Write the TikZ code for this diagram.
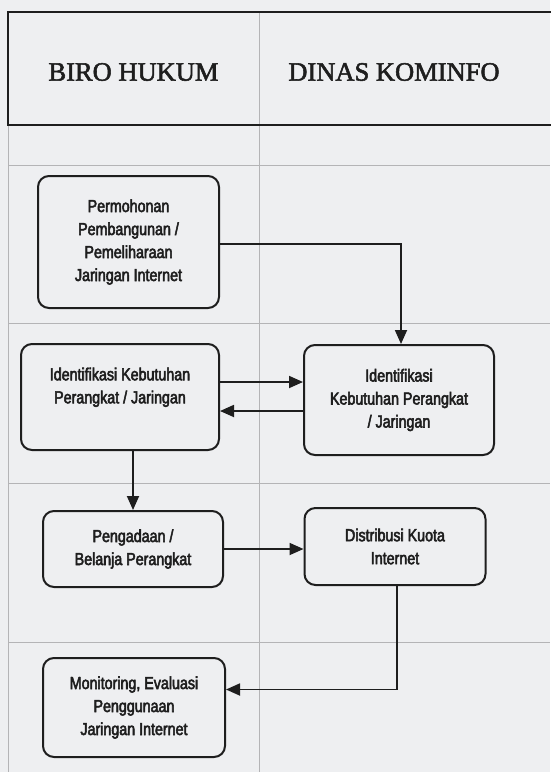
\documentclass[tikz,border=0pt]{standalone}
\usepackage{fontspec}
\setmainfont[FakeBold=2]{Liberation Serif}
\newfontfamily\boxfont[FakeStretch=0.82,FakeBold=3]{Liberation Sans}
\usetikzlibrary{arrows.meta,calc}
\definecolor{paper}{RGB}{238,239,241}
\definecolor{gridline}{RGB}{180,180,182}
\definecolor{ink}{RGB}{30,30,30}
\begin{document}
\begin{tikzpicture}[x=1pt,y=-1pt,
  lane/.style={draw=gridline,line width=0.6pt},
  header/.style={draw=ink,line width=1.4pt},
  title/.style={font=\fontsize{26.5}{30}\selectfont,text=ink,inner sep=0pt},
  flowbox/.style={draw=ink,line width=2pt,rounded corners=11pt,
    font=\boxfont\fontsize{17.4}{23}\selectfont,text=ink,align=center,
    inner sep=0pt},
  flow/.style={draw=ink,line width=1.8pt,
    -{Triangle[length=14pt,width=12pt]}}]
  % page and swimlane grid
  \fill[paper] (0,0) rectangle (550,772);
  \useasboundingbox (0,0) rectangle (550,772);
  \draw[lane] (8,12) -- (8,772);
  \draw[lane] (259,12) -- (259,772);
  \foreach \yy in {165,323,483,642}
    \draw[lane] (8,\yy) -- (550,\yy);
  % header band
  \draw[header] (552,12) -- (8,12) -- (8,125) -- (552,125);
  \node[title] (biro) at (133.5,72) {BIRO HUKUM};
  \node[title] (dinas) at (394,72) {DINAS KOMINFO};
  % process steps
  \node[flowbox,minimum width=181pt,minimum height=132pt] (A) at (128.5,242)
    {Permohonan\\Pembangunan /\\Pemeliharaan\\Jaringan Internet};
  \node[flowbox,minimum width=198pt,minimum height=106pt] (B) at (120,397)
    {Identifikasi Kebutuhan\\Perangkat / Jaringan\\\mbox{}};
  \node[flowbox,minimum width=190pt,minimum height=110pt] (C) at (399,400)
    {Identifikasi\\Kebutuhan Perangkat\\/ Jaringan};
  \node[flowbox,minimum width=180pt,minimum height=76pt] (D) at (133,549)
    {Pengadaan /\\Belanja Perangkat};
  \node[flowbox,minimum width=181pt,minimum height=77pt] (E) at (395,546.5)
    {Distribusi Kuota\\Internet};
  \node[flowbox,minimum width=182pt,minimum height=99pt] (F) at (134,707.5)
    {Monitoring, Evaluasi\\Penggunaan\\Jaringan Internet};
  % connector end points
  \coordinate (aout) at ($(A.east)+(0,2)$);
  \coordinate (cin) at ($(C.north)+(2,0)$);
  \coordinate (bout) at ($(B.east)+(0,-15)$);
  \coordinate (cout) at ($(C.west)+(0,11)$);
  \coordinate (eout) at ($(E.south)+(2,0)$);
  \coordinate (fin) at ($(F.east)+(0,-18)$);
  % connectors
  \draw[flow] (aout) -| (cin);
  \draw[flow] (bout) -- (bout -| C.west);
  \draw[flow] (cout) -- (cout -| B.east);
  \draw[flow] (B.south -| D.north) -- (D.north);
  \draw[flow] (D.east) -- (D.east -| E.west);
  \draw[flow] (eout) |- (fin);
\end{tikzpicture}
\end{document}
